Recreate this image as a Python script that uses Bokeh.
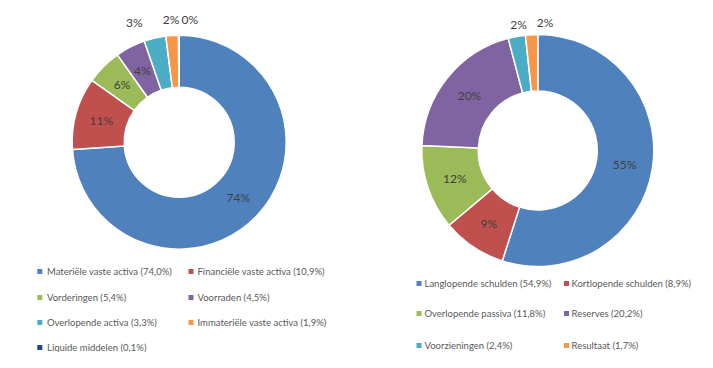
import numpy as np
from bokeh.plotting import figure
from bokeh.models import Range1d
from bokeh.core.properties import value
from bokeh.embed import file_html
from bokeh.resources import INLINE

# ---------------- data ----------------
activa_labels = ["Materiële vaste activa", "Financiële vaste activa", "Vorderingen",
                 "Voorraden", "Overlopende activa", "Immateriële vaste activa",
                 "Liquide middelen"]
activa_values = [74.0, 10.9, 5.4, 4.5, 3.3, 1.9, 0.1]
activa_pct_text = ["74%", "11%", "6%", "4%", "3%", "2%", "0%"]

passiva_labels = ["Langlopende schulden", "Kortlopende schulden", "Overlopende passiva",
                  "Reserves", "Voorzieningen", "Resultaat"]
passiva_values = [54.9, 8.9, 11.8, 20.2, 2.4, 1.7]
passiva_pct_text = ["55%", "9%", "12%", "20%", "2%", "2%"]

colors = ["#4F81BD", "#C0504D", "#9BBB59", "#8064A2", "#4BACC6", "#F79646", "#1F497D"]

# ---------------- layout (page px -> data) ----------------
W, H = 697, 352
def X(px): return px
def Y(py): return H - py

FONT = "Lato"
LABEL_COLOR = "#404040"
LEGEND_COLOR = "#595959"

p = figure(width=W, height=H, x_range=Range1d(0, W), y_range=Range1d(0, H),
           x_axis_type=None, y_axis_type=None, toolbar_location=None,
           output_backend="svg", min_border=0, outline_line_color=None)
p.grid.visible = False
p.background_fill_color = "white"
p.border_fill_color = "white"


def donut(vals, pct_text, cx, cy, R, r, out_r, nudges, legend_labels, leg):
    vals = np.asarray(vals, dtype=float)
    frac = vals / vals.sum()
    cum = np.concatenate([[0], np.cumsum(frac)])
    start = np.pi / 2 - 2 * np.pi * cum[:-1]
    end = np.pi / 2 - 2 * np.pi * cum[1:]
    n = len(vals)
    cols = colors[:n]
    x0, y0 = X(cx), Y(cy)
    p.annular_wedge(x=[x0] * n, y=[y0] * n, inner_radius=r, outer_radius=R,
                    start_angle=list(start), end_angle=list(end), direction="clock",
                    fill_color=cols, line_color="white", line_width=1.5)
    mid = np.pi / 2 - 2 * np.pi * (cum[:-1] + cum[1:]) / 2
    lx, ly, xo = [], [], []
    k = 0
    for i in range(n):
        if vals[i] >= 4:
            rr = (R + r) / 2
            dx = 0
        else:
            rr = out_r
            dx = nudges[k]
            k += 1
        lx.append(x0 + rr * np.cos(mid[i]))
        ly.append(y0 + rr * np.sin(mid[i]))
        xo.append(dx)
    p.text(x=lx, y=ly, text=list(pct_text), x_offset=xo, text_align="center",
           text_baseline="middle", text_font=value(FONT), text_font_size="12px",
           text_color=LABEL_COLOR)
    # legend
    mx, tx, rows = leg
    lgx, lgy, txs, tys, tt = [], [], [], [], []
    for i in range(n):
        row, col = divmod(i, 2)
        lgx.append(X(mx[col]))
        lgy.append(Y(rows[row]))
        txs.append(X(tx[col]))
        tys.append(Y(rows[row]))
        tt.append(f"{legend_labels[i]} ({vals[i]:.1f}%)".replace(".", ","))
    p.rect(x=lgx, y=lgy, width=5, height=5, fill_color=cols, line_color=None)
    p.text(x=txs, y=tys, text=tt, text_align="left", text_baseline="middle",
           text_font=value(FONT), text_font_size="9.5px", text_color=LEGEND_COLOR)


donut(activa_values, activa_pct_text, 178.7, 141.7, 107, 55, 123, [-17, 0, 11],
      activa_labels, ([39.3, 190.5], [46.5, 197], [271, 297, 322, 347]))
donut(passiva_values, passiva_pct_text, 537.3, 150, 116, 59.5, 128, [4, 14],
      passiva_labels, ([418.5, 566], [424, 571], [283, 313, 345]))

open("out.html", "w").write(file_html(p, INLINE))
